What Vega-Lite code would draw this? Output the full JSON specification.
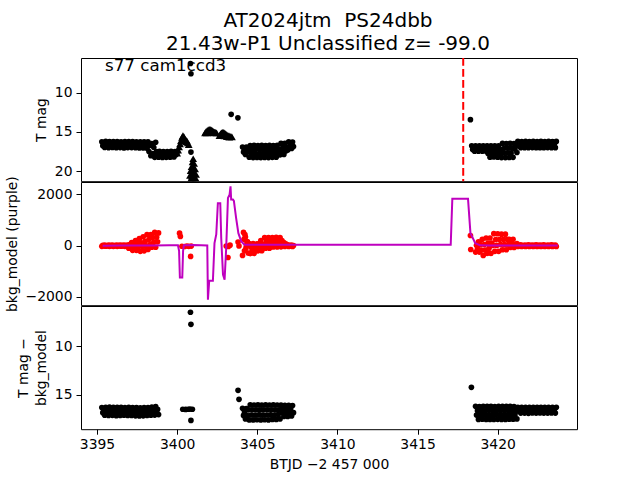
{
"$schema": "https://vega.github.io/schema/vega-lite/v6.json",
"padding": {"left": 4, "top": 10, "right": 10, "bottom": 8},
"title": {"text": ["AT2024jtm\u00a0 PS24dbb", "21.43w-P1 Unclassified z= -99.0"], "fontSize": 20, "fontWeight": "normal", "font": "DejaVu Sans", "color": "black", "anchor": "middle", "lineHeight": 23, "offset": 2.6, "frame": "group", "dx": -1},
"config": {
  "font": "DejaVu Sans",
  "view": {"stroke": "black", "strokeWidth": 1},
  "axis": {"grid": false, "domain": false, "tickColor": "black", "tickSize": 5, "tickWidth": 1, "labelFontSize": 13.9, "titleFontSize": 13.9, "labelColor": "black", "titleColor": "black", "titleFontWeight": "normal", "labelPadding": 4, "titlePadding": 6, "labelFont": "DejaVu Sans", "titleFont": "DejaVu Sans", "titleLineHeight": 18},
  "concat": {"spacing": 0}
},
"spacing": 0,
"bounds": "flush",
"datasets": {
"obs": [
{"t":3395.30,"m":16.24,"f":-25,"d":16.32},
{"t":3395.36,"m":16.75,"f":12,"d":16.85},
{"t":3395.42,"m":16.47,"f":-12,"d":16.57},
{"t":3395.48,"m":16.96,"f":24,"d":17.12},
{"t":3395.54,"m":16.2,"f":-22,"d":16.3},
{"t":3395.60,"m":16.72,"f":8,"d":16.88},
{"t":3395.66,"m":16.45,"f":-8,"d":16.6},
{"t":3395.72,"m":17.0,"f":26,"d":17.15},
{"t":3395.78,"m":16.23,"f":-26,"d":16.28},
{"t":3395.84,"m":16.76,"f":11,"d":16.84},
{"t":3395.90,"m":16.48,"f":-11,"d":16.56},
{"t":3395.96,"m":16.97,"f":23,"d":17.13},
{"t":3396.02,"m":16.21,"f":-24,"d":16.31},
{"t":3396.08,"m":16.73,"f":9,"d":16.87},
{"t":3396.14,"m":16.44,"f":-9,"d":16.59},
{"t":3396.20,"m":16.99,"f":25,"d":17.16},
{"t":3396.26,"m":16.22,"f":-25,"d":16.29},
{"t":3396.32,"m":16.74,"f":10,"d":16.86},
{"t":3396.38,"m":16.46,"f":-10,"d":16.58},
{"t":3396.44,"m":16.98,"f":25,"d":17.14},
{"t":3396.50,"m":16.25,"f":-23,"d":16.3},
{"t":3396.56,"m":16.77,"f":12,"d":16.85},
{"t":3396.62,"m":16.49,"f":-12,"d":16.57},
{"t":3396.68,"m":17.02,"f":24,"d":17.12},
{"t":3396.74,"m":16.22,"f":-25,"d":16.32},
{"t":3396.80,"m":16.74,"f":10,"d":16.86},
{"t":3396.86,"m":16.46,"f":-10,"d":16.6},
{"t":3396.92,"m":16.98,"f":25,"d":17.15},
{"t":3396.98,"m":16.22,"f":-100,"d":16.3},
{"t":3397.04,"m":16.74,"f":47,"d":16.86},
{"t":3397.10,"m":16.46,"f":-27,"d":16.58},
{"t":3397.16,"m":16.98,"f":120,"d":17.14},
{"t":3397.22,"m":16.23,"f":-180,"d":16.34},
{"t":3397.28,"m":16.75,"f":75,"d":16.88},
{"t":3397.34,"m":16.47,"f":-55,"d":16.6},
{"t":3397.40,"m":17.0,"f":200,"d":17.18},
{"t":3397.46,"m":16.24,"f":-180,"d":16.33},
{"t":3397.52,"m":16.76,"f":115,"d":16.9},
{"t":3397.58,"m":16.48,"f":-55,"d":16.62},
{"t":3397.64,"m":17.02,"f":280,"d":17.2},
{"t":3397.70,"m":16.25,"f":-220,"d":16.35},
{"t":3397.76,"m":16.77,"f":115,"d":16.9},
{"t":3397.82,"m":16.49,"f":-18,"d":16.62},
{"t":3397.88,"m":17.03,"f":350,"d":17.18},
{"t":3397.94,"m":16.26,"f":-200,"d":16.32},
{"t":3398.00,"m":16.78,"f":168,"d":16.88},
{"t":3398.06,"m":16.5,"f":-18,"d":16.6},
{"t":3398.12,"m":17.05,"f":430,"d":17.15},
{"t":3398.18,"m":16.25,"f":-150,"d":16.32},
{"t":3398.24,"m":17.48,"f":240,"d":16.88},
{"t":3398.30,"m":16.72,"f":40,"d":16.55},
{"t":3398.36,"m":18.02,"f":430,"d":17.12},
{"t":3398.42,"m":16.48,"f":-60,"d":16.28},
{"t":3398.48,"m":17.75,"f":320,"d":16.85},
{"t":3398.54,"m":16.95,"f":130,"d":16.6},
{"t":3398.60,"m":18.22,"f":520,"d":17.1},
{"t":3398.66,"m":16.3,"f":-60,"d":16.22},
{"t":3398.72,"m":17.5,"f":330,"d":16.8},
{"t":3398.78,"m":17.95,"f":150,"d":16.5},
{"t":3398.84,"m":18.2,"f":500,"d":17.05},
{"t":3398.90,"m":17.46},
{"t":3398.96,"m":17.98},
{"t":3399.02,"m":17.72},
{"t":3399.08,"m":18.24},
{"t":3399.14,"m":17.5},
{"t":3399.20,"m":18.0},
{"t":3399.26,"m":17.7},
{"t":3399.32,"m":18.22},
{"t":3399.38,"m":17.48},
{"t":3399.44,"m":17.96},
{"t":3399.50,"m":17.74},
{"t":3399.56,"m":18.2},
{"t":3399.62,"m":17.46},
{"t":3399.68,"m":17.95},
{"t":3399.74,"m":17.7},
{"t":3399.80,"m":18.18},
{"t":3399.86,"m":17.5},
{"t":3399.92,"m":17.9},
{"t":3399.98,"m":17.68},
{"t":3400.15,"f":490},
{"t":3400.20,"f":363},
{"t":3400.30,"f":-20},
{"t":3400.46,"f":-30},
{"t":3400.60,"f":-10},
{"t":3400.72,"f":-25},
{"t":3400.84,"f":-420},
{"t":3400.88,"f":-15},
{"t":3400.35,"d":16.5},
{"t":3400.53,"d":16.52},
{"t":3400.68,"d":16.5},
{"t":3400.80,"d":16.48},
{"t":3400.95,"d":16.5},
{"t":3400.86,"d":17.65,"m":17.55},
{"t":3400.83,"d":6.49,"m":6.3},
{"t":3400.86,"d":7.73,"m":7.6},
{"t":3403.37,"m":12.76},
{"t":3403.79,"m":13.2},
{"t":3403.06,"f":-10},
{"t":3403.17,"f":-460},
{"t":3403.20,"f":-30},
{"t":3403.30,"f":20},
{"t":3403.80,"f":140,"d":14.55},
{"t":3403.86,"f":-10,"d":15.48},
{"t":3404.08,"m":16.9,"f":-380,"d":16.4},
{"t":3404.14,"m":17.54,"f":520,"d":17.14},
{"t":3404.20,"m":17.21,"f":-200,"d":16.76},
{"t":3404.26,"m":17.85,"f":340,"d":17.5},
{"t":3404.32,"m":16.92,"f":-20,"d":16.42},
{"t":3404.38,"m":17.52,"f":160,"d":17.15},
{"t":3404.44,"m":17.2,"f":-290,"d":16.56},
{"t":3404.17,"f":250},
{"t":3404.23,"f":430},
{"t":3404.29,"f":-110},
{"t":3404.35,"f":70},
{"t":3404.50,"m":18.2,"f":80,"d":17.6},
{"t":3404.56,"m":16.72,"f":-310,"d":16.05},
{"t":3404.62,"m":17.75,"f":-50,"d":17.09},
{"t":3404.68,"m":17.22,"f":-180,"d":16.56},
{"t":3404.74,"m":18.25,"f":80,"d":17.6},
{"t":3404.80,"m":16.7,"f":-300,"d":16.06},
{"t":3404.86,"m":17.73,"f":-45,"d":17.1},
{"t":3404.92,"m":17.2,"f":-175,"d":16.55},
{"t":3404.98,"m":18.24,"f":75,"d":17.58},
{"t":3405.04,"m":16.71,"f":-200,"d":16.05},
{"t":3405.10,"m":17.76,"f":70,"d":17.08},
{"t":3405.16,"m":17.23,"f":-65,"d":16.57},
{"t":3405.22,"m":18.25,"f":200,"d":17.6},
{"t":3405.28,"m":16.7,"f":-195,"d":16.07},
{"t":3405.34,"m":17.74,"f":68,"d":17.1},
{"t":3405.40,"m":17.21,"f":-70,"d":16.56},
{"t":3405.46,"m":18.23,"f":320,"d":17.58},
{"t":3405.52,"m":16.72,"f":-100,"d":16.05},
{"t":3405.58,"m":17.75,"f":180,"d":17.09},
{"t":3405.64,"m":17.2,"f":40,"d":16.55},
{"t":3405.70,"m":18.25,"f":320,"d":17.6},
{"t":3405.76,"m":16.7,"f":-95,"d":16.06},
{"t":3405.82,"m":17.73,"f":185,"d":17.08},
{"t":3405.88,"m":17.22,"f":40,"d":16.56},
{"t":3405.94,"m":18.22,"f":320,"d":17.55},
{"t":3406.00,"m":16.72,"f":-50,"d":16.05},
{"t":3406.06,"m":17.74,"f":198,"d":17.1},
{"t":3406.12,"m":17.21,"f":72,"d":16.57},
{"t":3406.18,"m":18.2,"f":325,"d":17.55},
{"t":3406.24,"m":16.7,"f":-50,"d":16.06},
{"t":3406.30,"m":17.72,"f":195,"d":17.05},
{"t":3406.36,"m":17.2,"f":70,"d":16.55},
{"t":3406.42,"m":17.9,"f":320,"d":17.5},
{"t":3406.48,"m":16.45,"f":-45,"d":16.08},
{"t":3406.54,"m":17.42,"f":200,"d":16.87},
{"t":3406.60,"m":16.93,"f":75,"d":16.48},
{"t":3406.66,"m":17.85,"f":120,"d":17.25},
{"t":3406.72,"m":16.45,"f":-30,"d":16.1},
{"t":3406.78,"m":17.4,"f":70,"d":16.87},
{"t":3406.84,"m":16.92,"f":20,"d":16.48},
{"t":3406.90,"m":17.3,"f":30,"d":17.25},
{"t":3406.96,"m":16.25,"f":-30,"d":16.1},
{"t":3407.02,"m":16.95,"f":10,"d":16.85},
{"t":3407.08,"m":16.6,"f":-10,"d":16.48},
{"t":3407.14,"m":17.1,"f":28,"d":17.2},
{"t":3407.20,"m":16.28,"f":-28,"d":16.12},
{"t":3407.26,"m":16.85,"f":8,"d":16.85},
{"t":3418.30,"m":13.43,"f":400},
{"t":3418.36,"d":14.24},
{"t":3418.32,"f":-150},
{"t":3418.38,"m":16.75},
{"t":3418.44,"m":17.22},
{"t":3418.50,"m":16.98},
{"t":3418.56,"m":17.45},
{"t":3418.62,"m":16.76,"f":-250,"d":16.2},
{"t":3418.68,"m":17.2,"f":18,"d":17.1},
{"t":3418.74,"m":16.97,"f":-118,"d":16.65},
{"t":3418.80,"m":17.45,"f":150,"d":17.55},
{"t":3418.86,"m":16.75,"f":-250,"d":16.22},
{"t":3418.92,"m":17.22,"f":42,"d":17.1},
{"t":3418.98,"m":16.99,"f":-172,"d":16.65},
{"t":3419.04,"m":17.44,"f":250,"d":17.52},
{"t":3419.10,"m":16.76,"f":-380,"d":16.2},
{"t":3419.16,"m":17.23,"f":42,"d":17.08},
{"t":3419.22,"m":16.98,"f":-170,"d":16.66},
{"t":3419.28,"m":17.45,"f":300,"d":17.55},
{"t":3419.34,"m":16.75,"f":-300,"d":16.21},
{"t":3419.40,"m":17.72,"f":100,"d":17.1},
{"t":3419.46,"m":17.23,"f":-100,"d":16.64},
{"t":3419.52,"m":18.2,"f":300,"d":17.55},
{"t":3419.58,"m":16.75,"f":-300,"d":16.2},
{"t":3419.64,"m":17.72,"f":100,"d":17.1},
{"t":3419.70,"m":17.24,"f":9,"d":16.65},
{"t":3419.76,"m":18.18,"f":470,"d":17.55},
{"t":3419.82,"m":16.76,"f":-220,"d":16.22},
{"t":3419.88,"m":17.73,"f":242,"d":17.08},
{"t":3419.94,"m":17.22,"f":10,"d":16.66},
{"t":3420.00,"m":18.2,"f":465,"d":17.54},
{"t":3420.06,"m":16.75,"f":-220,"d":16.2},
{"t":3420.12,"m":17.72,"f":240,"d":17.1},
{"t":3420.18,"m":17.23,"f":42,"d":16.65},
{"t":3420.24,"m":18.25,"f":450,"d":17.55},
{"t":3420.30,"m":16.45,"f":-160,"d":16.21},
{"t":3420.36,"m":17.66,"f":249,"d":17.1},
{"t":3420.42,"m":17.04,"f":41,"d":16.64},
{"t":3420.48,"m":18.25,"f":450,"d":17.55},
{"t":3420.54,"m":16.46,"f":-160,"d":16.2},
{"t":3420.60,"m":17.65,"f":245,"d":17.1},
{"t":3420.66,"m":17.05,"f":40,"d":16.65},
{"t":3420.72,"m":18.24,"f":250,"d":17.53},
{"t":3420.78,"m":16.45,"f":-70,"d":16.2},
{"t":3420.84,"m":17.66,"f":144,"d":17.1},
{"t":3420.90,"m":17.04,"f":36,"d":16.65},
{"t":3420.96,"m":18.22,"f":250,"d":17.52},
{"t":3421.02,"m":16.46,"f":-70,"d":16.22},
{"t":3421.08,"m":17.17,"f":40,"d":17.08},
{"t":3421.14,"m":16.73,"f":0,"d":16.65},
{"t":3421.20,"m":17.6,"f":80,"d":17.5},
{"t":3421.26,"m":16.2,"f":-30,"d":16.3},
{"t":3421.32,"m":16.74,"f":10,"d":16.7},
{"t":3421.38,"m":16.46,"f":-10,"d":16.5},
{"t":3421.44,"m":17.0,"f":30,"d":16.9},
{"t":3421.50,"m":16.21,"f":-28,"d":16.31},
{"t":3421.56,"m":16.75,"f":9,"d":16.72},
{"t":3421.62,"m":16.45,"f":-11,"d":16.5},
{"t":3421.68,"m":16.99,"f":28,"d":16.9},
{"t":3421.74,"m":16.2,"f":-30,"d":16.3},
{"t":3421.80,"m":16.74,"f":12,"d":16.7},
{"t":3421.86,"m":16.47,"f":-9,"d":16.52},
{"t":3421.92,"m":17.0,"f":30,"d":16.92},
{"t":3421.98,"m":16.22,"f":-29,"d":16.29},
{"t":3422.04,"m":16.73,"f":10,"d":16.71},
{"t":3422.10,"m":16.46,"f":-10,"d":16.49},
{"t":3422.16,"m":16.98,"f":29,"d":16.88},
{"t":3422.22,"m":16.2,"f":-30,"d":16.3},
{"t":3422.28,"m":16.75,"f":11,"d":16.7},
{"t":3422.34,"m":16.45,"f":-10,"d":16.5},
{"t":3422.40,"m":17.0,"f":30,"d":16.9},
{"t":3422.46,"m":16.21,"f":-28,"d":16.31},
{"t":3422.52,"m":16.74,"f":10,"d":16.7},
{"t":3422.58,"m":16.46,"f":-12,"d":16.51},
{"t":3422.64,"m":16.99,"f":28,"d":16.89},
{"t":3422.70,"m":16.2,"f":-30,"d":16.3},
{"t":3422.76,"m":16.74,"f":10,"d":16.7},
{"t":3422.82,"m":16.47,"f":-10,"d":16.5},
{"t":3422.88,"m":17.0,"f":30,"d":16.9},
{"t":3422.94,"m":16.22,"f":-29,"d":16.3},
{"t":3423.00,"m":16.73,"f":9,"d":16.69},
{"t":3423.06,"m":16.45,"f":-10,"d":16.5},
{"t":3423.12,"m":16.98,"f":29,"d":16.9},
{"t":3423.18,"m":16.2,"f":-30,"d":16.31},
{"t":3423.24,"m":16.75,"f":10,"d":16.7},
{"t":3423.30,"m":16.46,"f":-11,"d":16.5},
{"t":3423.36,"m":17.0,"f":30,"d":16.88},
{"t":3423.42,"m":16.21,"f":-28,"d":16.3},
{"t":3423.48,"m":16.74,"f":11,"d":16.71},
{"t":3423.54,"m":16.47,"f":-10,"d":16.5},
{"t":3423.60,"m":16.99,"f":29,"d":16.9},
{"t":3423.66,"m":16.2,"f":-30,"d":16.3},
{"t":3400.00,"u":17.7},
{"t":3400.06,"u":17.3},
{"t":3400.12,"u":16.9},
{"t":3400.18,"u":16.5},
{"t":3400.24,"u":16.1},
{"t":3400.30,"u":15.7},
{"t":3400.36,"u":15.45},
{"t":3400.42,"u":15.6},
{"t":3400.48,"u":15.95},
{"t":3400.54,"u":16.25},
{"t":3400.60,"u":16.1},
{"t":3400.66,"u":16.4},
{"t":3400.72,"u":16.6},
{"t":3401.00,"u":18.4},
{"t":3400.96,"u":18.8},
{"t":3401.06,"u":19.0},
{"t":3400.90,"u":19.4},
{"t":3401.02,"u":19.5},
{"t":3401.12,"u":19.7},
{"t":3400.84,"u":19.9},
{"t":3400.96,"u":20.0},
{"t":3401.08,"u":20.2},
{"t":3401.18,"u":20.4},
{"t":3400.80,"u":20.5},
{"t":3400.92,"u":20.6},
{"t":3401.04,"u":20.7},
{"t":3401.16,"u":20.9},
{"t":3400.86,"u":20.95},
{"t":3400.98,"u":21.0},
{"t":3401.74,"u":15.1},
{"t":3401.80,"u":14.95},
{"t":3401.86,"u":14.85},
{"t":3401.92,"u":14.75},
{"t":3401.98,"u":14.68},
{"t":3402.04,"u":14.65},
{"t":3402.10,"u":14.68},
{"t":3402.16,"u":14.75},
{"t":3402.22,"u":14.85},
{"t":3402.28,"u":14.95},
{"t":3402.34,"u":15.0},
{"t":3402.40,"u":15.05},
{"t":3402.46,"u":15.1},
{"t":3401.85,"u":15.1},
{"t":3401.98,"u":15.05},
{"t":3402.12,"u":15.05},
{"t":3402.26,"u":15.1},
{"t":3402.64,"u":15.45},
{"t":3402.70,"u":15.25},
{"t":3402.76,"u":15.12},
{"t":3402.82,"u":15.05},
{"t":3402.88,"u":15.05},
{"t":3402.94,"u":15.1},
{"t":3403.00,"u":15.2},
{"t":3403.06,"u":15.3},
{"t":3403.12,"u":15.38},
{"t":3403.18,"u":15.45},
{"t":3403.24,"u":15.5},
{"t":3403.30,"u":15.55},
{"t":3403.36,"u":15.6},
{"t":3403.42,"u":15.62},
{"t":3402.80,"u":15.45},
{"t":3402.95,"u":15.5},
{"t":3403.10,"u":15.6},
{"t":3403.25,"u":15.65}
],
"bkg": [
{"t":3395.35,"b":0},{"t":3396.5,"b":5},{"t":3397.5,"b":10},{"t":3398.5,"b":12},{"t":3399.5,"b":15},{"t":3400.05,"b":20},
{"t":3400.12,"b":-200},{"t":3400.17,"b":-1240},{"t":3400.32,"b":-1240},{"t":3400.37,"b":-200},{"t":3400.42,"b":15},
{"t":3401.0,"b":30},{"t":3401.5,"b":20},{"t":3401.88,"b":10},{"t":3401.92,"b":-2110},{"t":3402.0,"b":-1370},{"t":3402.23,"b":-1370},
{"t":3402.33,"b":100},{"t":3402.44,"b":440},{"t":3402.54,"b":1660},{"t":3402.69,"b":1660},{"t":3402.75,"b":300},{"t":3402.86,"b":-1130},
{"t":3402.96,"b":-1330},{"t":3403.06,"b":-90},{"t":3403.17,"b":1860},{"t":3403.27,"b":1990},{"t":3403.33,"b":2320},{"t":3403.37,"b":1800},
{"t":3403.48,"b":1800},{"t":3403.54,"b":1750},{"t":3403.68,"b":1080},{"t":3403.82,"b":490},{"t":3404.0,"b":170},{"t":3404.2,"b":40},
{"t":3410.0,"b":40},{"t":3417.07,"b":40},{"t":3417.17,"b":1830},{"t":3418.15,"b":1830},{"t":3418.3,"b":500},{"t":3418.6,"b":100},
{"t":3418.9,"b":15},{"t":3419.5,"b":10},{"t":3423.75,"b":8}
],
"note": [{"label": "s77 cam1ccd3"}]
},
"vconcat": [
{
  "width": 496, "height": 123.2,
  "layer": [
    {"data": {"name": "obs"}, "transform": [{"filter": "isValid(datum.m)"}],
     "mark": {"type": "point", "shape": "circle", "filled": true, "color": "black", "size": 32, "opacity": 1, "clip": true},
     "encoding": {
       "x": {"field": "t", "type": "quantitative", "scale": {"domain": [3394.0, 3424.95], "nice": false, "zero": false}, "axis": null},
       "y": {"field": "m", "type": "quantitative", "scale": {"domain": [5.6, 21.25], "reverse": true, "nice": false, "zero": false}, "axis": {"values": [10, 15, 20], "title": "T mag"}}
     }},
    {"data": {"name": "obs"}, "transform": [{"filter": "isValid(datum.u)"}],
     "mark": {"type": "point", "shape": "triangle-up", "filled": true, "color": "black", "size": 60, "opacity": 1, "clip": true},
     "encoding": {
       "x": {"field": "t", "type": "quantitative"},
       "y": {"field": "u", "type": "quantitative", "axis": {"values": [10, 15, 20], "title": "T mag"}}
     }},
    {"data": {"name": "note"},
     "mark": {"type": "rule", "color": "red", "strokeWidth": 2, "strokeDash": [7.7, 3.3]},
     "encoding": {"x": {"datum": 3417.85, "type": "quantitative"}}},
    {"data": {"name": "note"},
     "mark": {"type": "text", "align": "left", "baseline": "alphabetic", "fontSize": 16.7, "color": "black", "font": "DejaVu Sans"},
     "encoding": {"x": {"datum": 3395.5, "type": "quantitative"}, "y": {"datum": 7.29, "type": "quantitative"}, "text": {"field": "label", "type": "nominal"}}}
  ]
},
{
  "width": 496, "height": 123.2,
  "layer": [
    {"data": {"name": "obs"}, "transform": [{"filter": "isValid(datum.f)"}],
     "mark": {"type": "point", "shape": "circle", "filled": true, "color": "#ff0000", "size": 32, "opacity": 1, "clip": true},
     "encoding": {
       "x": {"field": "t", "type": "quantitative", "scale": {"domain": [3394.0, 3424.95], "nice": false, "zero": false}, "axis": null},
       "y": {"field": "f", "type": "quantitative", "scale": {"domain": [-2324, 2488], "nice": false, "zero": false}, "axis": {"values": [-2000, 0, 2000], "format": "d", "title": "bkg_model (purple)"}}
     }},
    {"data": {"name": "bkg"},
     "mark": {"type": "line", "color": "#bf00bf", "strokeWidth": 2, "clip": true},
     "encoding": {
       "x": {"field": "t", "type": "quantitative"},
       "y": {"field": "b", "type": "quantitative", "axis": {"values": [-2000, 0, 2000], "format": "d", "title": "bkg_model (purple)"}}
     }}
  ]
},
{
  "width": 496, "height": 123.2,
  "layer": [
    {"data": {"name": "obs"}, "transform": [{"filter": "isValid(datum.d)"}],
     "mark": {"type": "point", "shape": "circle", "filled": true, "color": "black", "size": 32, "opacity": 1, "clip": true},
     "encoding": {
       "x": {"field": "t", "type": "quantitative", "scale": {"domain": [3394.0, 3424.95], "nice": false, "zero": false}, "axis": {"values": [3395, 3400, 3405, 3410, 3415, 3420], "format": "d", "title": "BTJD −2 457 000", "labelPadding": 3, "titlePadding": 6}},
       "y": {"field": "d", "type": "quantitative", "scale": {"domain": [5.84, 18.56], "reverse": true, "nice": false, "zero": false}, "axis": {"values": [10, 15], "title": ["T mag −", "bkg_model"]}}
     }}
  ]
}
]
}
